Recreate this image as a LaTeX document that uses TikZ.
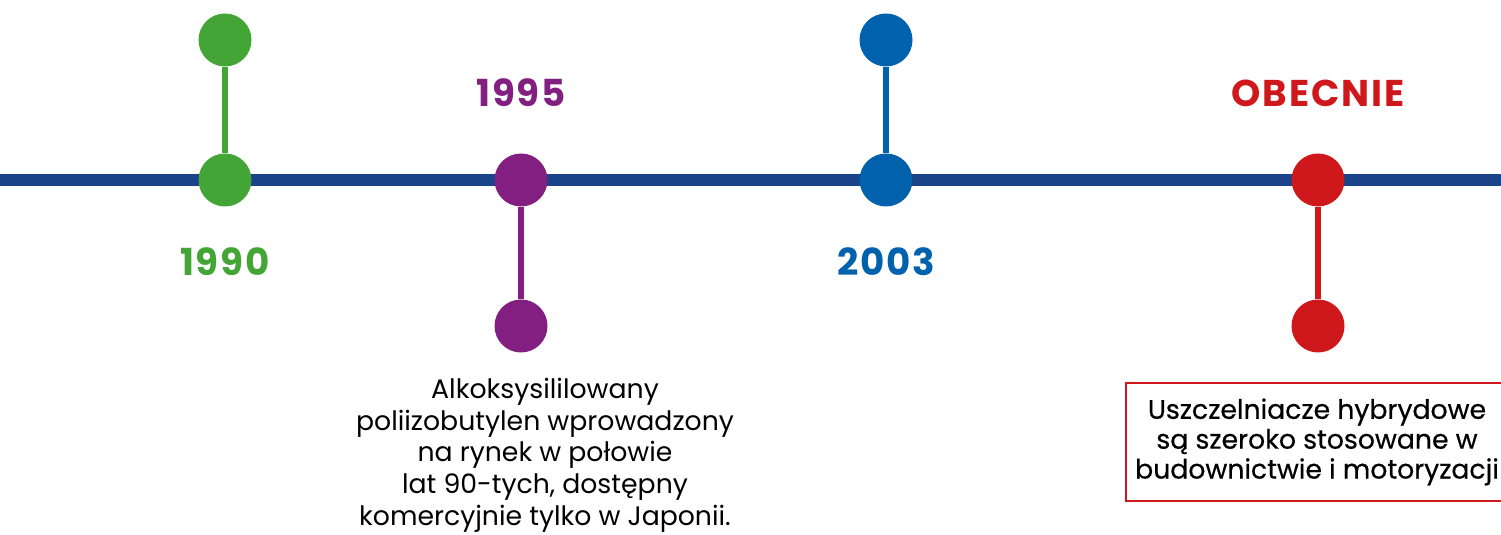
\documentclass[tikz,border=0pt]{standalone}
\usepackage{fontspec}
\setmainfont{Poppins}
\usepackage{tikz}
\usetikzlibrary{positioning}

\definecolor{axisblue}{HTML}{1A4389}
\definecolor{yrgreen}{HTML}{43A536}
\definecolor{yrpurple}{HTML}{841F82}
\definecolor{yrblue}{HTML}{0061AD}
\definecolor{yrred}{HTML}{CE181B}

\tikzset{
    dot/.style={circle, fill=#1, inner sep=0pt, minimum size=0.53cm},
    stem/.style={draw=#1, line width=1.7pt},
    year/.style={text=#1, font=\bfseries\fontsize{10.6}{12}\selectfont\addfontfeatures{LetterSpace=5}},
    note/.style={align=center, font=\fontsize{7.6}{9.0}\selectfont}
}

\begin{document}
\begin{tikzpicture}
        \useasboundingbox (0,0) rectangle (15.01,5.35);
        % time axis
        \coordinate (axisL) at (0,3.55);
        \coordinate (axisR) at (15.01,3.55);
        \draw [axisblue, line width=3.4pt] (axisL) -- (axisR);
        % 1990
        \node [dot=yrgreen] (g1) at (2.25, 4.95) {};
        \node [dot=yrgreen] (g2) at (2.25, 3.55) {};
        \draw [stem=yrgreen] (g1) -- (g2);
        \node [year=yrgreen] (y1990) at (2.25, 2.73) {1990};
        % 1995
        \node [dot=yrpurple] (p1) at (5.21, 3.55) {};
        \node [dot=yrpurple] (p2) at (5.21, 2.09) {};
        \draw [stem=yrpurple] (p1) -- (p2);
        \node [year=yrpurple] (y1995) at (5.21, 4.42) {1995};
        \node [note, anchor=north] (t1995) at (5.45, 1.69)
            {Alkoksysililowany\\poliizobutylen wprowadzony\\na rynek w połowie\\lat 90-tych, dostępny\\komercyjnie tylko w Japonii.};
        % 2003
        \node [dot=yrblue] (b1) at (8.86, 4.95) {};
        \node [dot=yrblue] (b2) at (8.86, 3.55) {};
        \draw [stem=yrblue] (b1) -- (b2);
        \node [year=yrblue] (y2003) at (8.86, 2.73) {2003};
        % obecnie
        \node [dot=yrred] (r1) at (13.18, 3.55) {};
        \node [dot=yrred] (r2) at (13.18, 2.09) {};
        \draw [stem=yrred] (r1) -- (r2);
        \node [year=yrred] (ynow) at (13.18, 4.42) {OBECNIE};
        \node [note, draw=yrred, line width=0.5pt, minimum width=3.82cm, minimum height=1.18cm,
               inner sep=0pt, font=\fontsize{7.6}{8.5}\selectfont\addfontfeatures{FakeBold=0.5}] (tnow) at (13.17, 0.93)
            {Uszczelniacze hybrydowe\\są szeroko stosowane w\\budownictwie i motoryzacji};
    \end{tikzpicture}
\end{document}
